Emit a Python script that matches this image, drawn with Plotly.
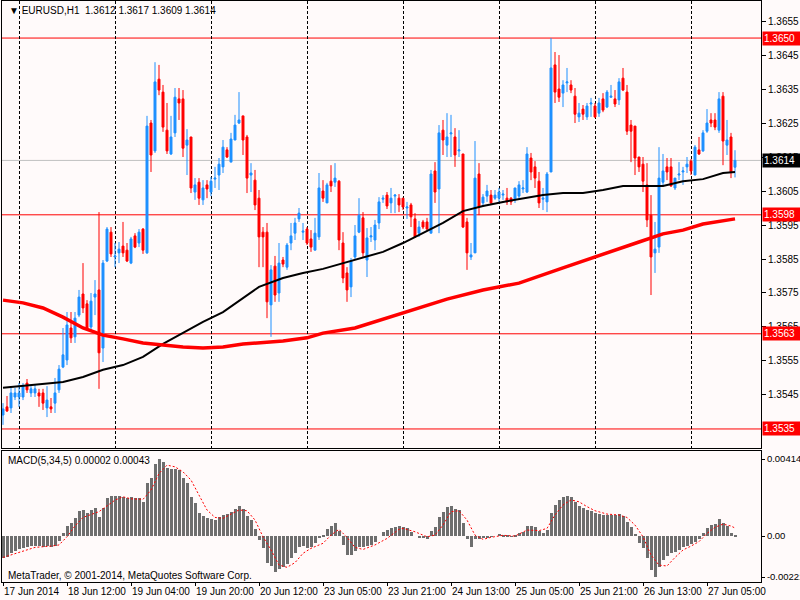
"""
EURUSD H1 - candlestick chart with moving averages and MACD (MetaTrader style)
"""
import plotly.graph_objects as go

# ---- data ----
OPEN = [
    1.35391, 1.35415, 1.35412, 1.35444, 1.35444, 1.35444, 1.35485, 1.35456, 1.35456, 1.35456,
    1.35456, 1.35412, 1.35415, 1.35426, 1.35465, 1.35532, 1.35553, 1.35647, 1.35621, 1.35685,
    1.35747, 1.35718, 1.35650, 1.35738, 1.35759, 1.35588, 1.35844, 1.35929, 1.35856, 1.35868,
    1.35888, 1.35876, 1.35838, 1.35918, 1.35897, 1.35938, 1.35868, 1.36250, 1.36168, 1.36379,
    1.36341, 1.36229, 1.36159, 1.36221, 1.36321, 1.36321, 1.36185, 1.36209, 1.36047, 1.36076,
    1.36024, 1.36068, 1.36047, 1.36085, 1.36097, 1.36121, 1.36171, 1.36135, 1.36200, 1.36250,
    1.36271, 1.36209, 1.36097, 1.36082, 1.36029, 1.35929, 1.35929, 1.35715, 1.35829, 1.35750,
    1.35847, 1.35826, 1.35897, 1.35926, 1.35968, 1.35929, 1.35938, 1.35909, 1.35876, 1.35915,
    1.36050, 1.36015, 1.36079, 1.36076, 1.36079, 1.35897, 1.35809, 1.35768, 1.35856, 1.35929,
    1.35971, 1.35847, 1.35915, 1.35906, 1.35956, 1.36026, 1.36038, 1.36015, 1.36035, 1.36029,
    1.36029, 1.36000, 1.36009, 1.35968, 1.35926, 1.35959, 1.35959, 1.35926, 1.36109, 1.36056,
    1.36229, 1.36185, 1.36218, 1.36209, 1.36168, 1.36159, 1.35959, 1.35856, 1.35868, 1.36100,
    1.36015, 1.36035, 1.36038, 1.36029, 1.36029, 1.36038, 1.36029, 1.36029, 1.36024, 1.36035,
    1.36056, 1.36047, 1.36147, 1.36121, 1.36079, 1.36026, 1.36018, 1.36106, 1.36421, 1.36350,
    1.36338, 1.36368, 1.36362, 1.36329, 1.36268, 1.36291, 1.36268, 1.36306, 1.36300, 1.36279,
    1.36321, 1.36297, 1.36326, 1.36321, 1.36318, 1.36382, 1.36341, 1.36244, 1.36241, 1.36150,
    1.36129, 1.36068, 1.35979, 1.35868, 1.35885, 1.36076, 1.36121, 1.36121, 1.36059, 1.36097,
    1.36106, 1.36121, 1.36138, 1.36097, 1.36171, 1.36168, 1.36226, 1.36259, 1.36259, 1.36229,
    1.36329, 1.36185, 1.36209, 1.36120,
]
HIGH = [
    1.35426, 1.35447, 1.35471, 1.35471, 1.35485, 1.35485, 1.35497, 1.35476, 1.35479, 1.35468,
    1.35468, 1.35476, 1.35441, 1.35500, 1.35538, 1.35647, 1.35694, 1.35694, 1.35694, 1.35759,
    1.35838, 1.35729, 1.35750, 1.35788, 1.35988, 1.35847, 1.35944, 1.35944, 1.35897, 1.35900,
    1.35959, 1.35897, 1.35915, 1.35926, 1.35938, 1.35941, 1.36271, 1.36259, 1.36429, 1.36421,
    1.36362, 1.36309, 1.36271, 1.36353, 1.36353, 1.36347, 1.36232, 1.36209, 1.36088, 1.36088,
    1.36082, 1.36082, 1.36091, 1.36121, 1.36147, 1.36200, 1.36179, 1.36221, 1.36274, 1.36341,
    1.36271, 1.36215, 1.36132, 1.36112, 1.36053, 1.35944, 1.35956, 1.35832, 1.35859, 1.35897,
    1.35856, 1.35897, 1.35956, 1.35971, 1.36000, 1.35956, 1.35944, 1.35935, 1.35971, 1.36103,
    1.36082, 1.36074, 1.36126, 1.36132, 1.36082, 1.35929, 1.35826, 1.35853, 1.35950, 1.36029,
    1.35988, 1.35941, 1.35944, 1.35965, 1.36032, 1.36038, 1.36047, 1.36059, 1.36041, 1.36041,
    1.36029, 1.36018, 1.36015, 1.35985, 1.35962, 1.35965, 1.35971, 1.36112, 1.36135, 1.36244,
    1.36259, 1.36279, 1.36274, 1.36235, 1.36229, 1.36159, 1.35971, 1.35897, 1.36197, 1.36132,
    1.36041, 1.36068, 1.36053, 1.36053, 1.36059, 1.36053, 1.36059, 1.36032, 1.36059, 1.36079,
    1.36082, 1.36179, 1.36162, 1.36138, 1.36106, 1.36059, 1.36106, 1.36500, 1.36459, 1.36450,
    1.36376, 1.36412, 1.36376, 1.36353, 1.36309, 1.36303, 1.36309, 1.36324, 1.36309, 1.36324,
    1.36338, 1.36347, 1.36362, 1.36347, 1.36382, 1.36412, 1.36362, 1.36259, 1.36241, 1.36150,
    1.36150, 1.36132, 1.36038, 1.35959, 1.36179, 1.36159, 1.36147, 1.36147, 1.36088, 1.36135,
    1.36121, 1.36150, 1.36144, 1.36185, 1.36209, 1.36229, 1.36291, 1.36279, 1.36279, 1.36341,
    1.36341, 1.36259, 1.36221, 1.36170,
]
LOW = [
    1.35362, 1.35400, 1.35397, 1.35435, 1.35415, 1.35435, 1.35456, 1.35444, 1.35444, 1.35415,
    1.35406, 1.35385, 1.35397, 1.35397, 1.35456, 1.35529, 1.35538, 1.35603, 1.35603, 1.35679,
    1.35691, 1.35641, 1.35641, 1.35685, 1.35468, 1.35547, 1.35841, 1.35856, 1.35826, 1.35838,
    1.35856, 1.35841, 1.35835, 1.35882, 1.35885, 1.35865, 1.35865, 1.36106, 1.36162, 1.36332,
    1.36224, 1.36159, 1.36156, 1.36209, 1.36259, 1.36150, 1.36097, 1.36044, 1.36024, 1.36009,
    1.36009, 1.36029, 1.36035, 1.36059, 1.36053, 1.36103, 1.36147, 1.36135, 1.36200, 1.36247,
    1.36156, 1.36044, 1.36047, 1.35994, 1.35826, 1.35826, 1.35676, 1.35621, 1.35724, 1.35724,
    1.35826, 1.35818, 1.35876, 1.35906, 1.35959, 1.35906, 1.35891, 1.35871, 1.35876, 1.35906,
    1.36018, 1.36015, 1.36047, 1.36062, 1.35876, 1.35779, 1.35724, 1.35738, 1.35847, 1.35926,
    1.35856, 1.35797, 1.35900, 1.35876, 1.35938, 1.36015, 1.35997, 1.35985, 1.35985, 1.35988,
    1.35994, 1.35968, 1.35944, 1.35912, 1.35915, 1.35938, 1.35935, 1.35926, 1.36015, 1.35926,
    1.36156, 1.36150, 1.36150, 1.36121, 1.36150, 1.35941, 1.35818, 1.35847, 1.35868, 1.35979,
    1.36003, 1.36018, 1.36009, 1.36024, 1.36015, 1.36024, 1.36009, 1.36009, 1.36015, 1.36024,
    1.36044, 1.36044, 1.36082, 1.36059, 1.36000, 1.35994, 1.35988, 1.36106, 1.36309, 1.36312,
    1.36297, 1.36341, 1.36338, 1.36250, 1.36253, 1.36259, 1.36259, 1.36268, 1.36265, 1.36268,
    1.36282, 1.36294, 1.36324, 1.36297, 1.36303, 1.36344, 1.36215, 1.36135, 1.36097, 1.36106,
    1.36047, 1.35944, 1.35744, 1.35809, 1.35868, 1.36062, 1.36082, 1.36062, 1.36053, 1.36082,
    1.36068, 1.36103, 1.36097, 1.36097, 1.36156, 1.36165, 1.36221, 1.36238, 1.36229, 1.36221,
    1.36126, 1.36156, 1.36088, 1.36090,
]
CLOSE = [
    1.35409, 1.35403, 1.35456, 1.35456, 1.35456, 1.35476, 1.35465, 1.35468, 1.35468, 1.35447,
    1.35426, 1.35435, 1.35409, 1.35456, 1.35526, 1.35568, 1.35656, 1.35618, 1.35676, 1.35738,
    1.35706, 1.35647, 1.35726, 1.35747, 1.35574, 1.35838, 1.35938, 1.35865, 1.35859, 1.35879,
    1.35868, 1.35844, 1.35909, 1.35885, 1.35929, 1.35876, 1.36241, 1.36156, 1.36371, 1.36347,
    1.36238, 1.36168, 1.36209, 1.36326, 1.36309, 1.36176, 1.36200, 1.36059, 1.36068, 1.36029,
    1.36059, 1.36056, 1.36079, 1.36088, 1.36129, 1.36179, 1.36150, 1.36203, 1.36244, 1.36259,
    1.36200, 1.36088, 1.36103, 1.36009, 1.35915, 1.35915, 1.35724, 1.35818, 1.35744, 1.35838,
    1.35835, 1.35891, 1.35918, 1.35956, 1.35985, 1.35932, 1.35897, 1.35885, 1.35926, 1.36059,
    1.36029, 1.36068, 1.36065, 1.36088, 1.35906, 1.35794, 1.35759, 1.35844, 1.35918, 1.35979,
    1.35868, 1.35912, 1.35918, 1.35950, 1.36018, 1.36029, 1.36006, 1.36029, 1.36038, 1.36009,
    1.36003, 1.36003, 1.35974, 1.35915, 1.35944, 1.35944, 1.35938, 1.36100, 1.36047, 1.36221,
    1.36200, 1.36209, 1.36221, 1.36156, 1.36171, 1.35944, 1.35868, 1.35862, 1.36088, 1.36003,
    1.36032, 1.36050, 1.36015, 1.36038, 1.36047, 1.36041, 1.36018, 1.36018, 1.36059, 1.36068,
    1.36059, 1.36159, 1.36106, 1.36088, 1.36015, 1.36029, 1.36100, 1.36412, 1.36341, 1.36326,
    1.36362, 1.36371, 1.36347, 1.36276, 1.36279, 1.36276, 1.36300, 1.36309, 1.36268, 1.36309,
    1.36288, 1.36341, 1.36329, 1.36306, 1.36371, 1.36347, 1.36226, 1.36226, 1.36147, 1.36121,
    1.36079, 1.35965, 1.35856, 1.35879, 1.36088, 1.36109, 1.36106, 1.36065, 1.36088, 1.36100,
    1.36109, 1.36129, 1.36109, 1.36179, 1.36159, 1.36221, 1.36250, 1.36250, 1.36238, 1.36321,
    1.36197, 1.36200, 1.36106, 1.36140,
]

# moving averages (bar index, price)
MA_FAST_X = [0, 8, 15, 20, 25, 30, 35, 40, 45, 50, 55, 60, 64, 70, 75, 80, 85, 90, 95,
             100, 105, 110, 115, 120, 125, 130, 135, 140, 145, 150, 155, 160, 165, 170,
             175, 180, 183]
MA_FAST_Y = [1.35471, 1.35479, 1.35488, 1.35503, 1.35524, 1.35538, 1.35562, 1.35600,
             1.35632, 1.35665, 1.35694, 1.35735, 1.35768, 1.35794, 1.35809, 1.35821,
             1.35838, 1.35853, 1.35871, 1.35897, 1.35926, 1.35956, 1.35991, 1.36006,
             1.36018, 1.36029, 1.36038, 1.36044, 1.36044, 1.36053, 1.36065, 1.36065,
             1.36065, 1.36079, 1.36085, 1.36103, 1.36106]
MA_SLOW_X = [0, 5, 10, 15, 20, 25, 30, 35, 40, 45, 50, 55, 60, 64, 70, 76, 80, 88, 96,
             104, 111, 120, 129, 140, 149, 155, 159, 165, 170, 175, 180, 183]
MA_SLOW_Y = [1.35729, 1.35721, 1.35706, 1.35679, 1.35647, 1.35626, 1.35615, 1.35603,
             1.35597, 1.35591, 1.35588, 1.35591, 1.35600, 1.35603, 1.35609, 1.35618,
             1.35632, 1.35647, 1.35676, 1.35706, 1.35732, 1.35759, 1.35779, 1.35824,
             1.35859, 1.35882, 1.35900, 1.35924, 1.35935, 1.35953, 1.35962, 1.35968]

# MACD(5,34,5) histogram and signal
MACD = [
    -0.00120, -0.00111, -0.00093, -0.00081, -0.00072, -0.00066, -0.00057, -0.00054, -0.00054, -0.00054,
    -0.00057, -0.00054, -0.00061, -0.00054, -0.00025, 0.00014, 0.00054, 0.00068, 0.00095, 0.00134,
    0.00140, 0.00125, 0.00140, 0.00149, 0.00104, 0.00149, 0.00202, 0.00215, 0.00215, 0.00215,
    0.00208, 0.00202, 0.00208, 0.00202, 0.00202, 0.00184, 0.00283, 0.00310, 0.00387, 0.00414,
    0.00399, 0.00363, 0.00358, 0.00358, 0.00355, 0.00310, 0.00283, 0.00211, 0.00175, 0.00125,
    0.00107, 0.00095, 0.00090, 0.00086, 0.00100, 0.00113, 0.00118, 0.00131, 0.00143, 0.00161,
    0.00143, 0.00107, 0.00086, 0.00036, -0.00021, -0.00066, -0.00143, -0.00161, -0.00191, -0.00179,
    -0.00168, -0.00150, -0.00120, -0.00093, -0.00061, -0.00054, -0.00066, -0.00061, -0.00039, -0.00007,
    0.00005, 0.00036, 0.00054, 0.00068, 0.00029, -0.00048, -0.00102, -0.00102, -0.00079, -0.00061,
    -0.00061, -0.00054, -0.00048, -0.00030, 0.00000, 0.00023, 0.00032, 0.00041, 0.00050, 0.00054,
    0.00047, 0.00041, 0.00023, 0.00000, -0.00007, -0.00013, -0.00018, 0.00029, 0.00047, 0.00104,
    0.00131, 0.00154, 0.00161, 0.00143, 0.00140, 0.00068, -0.00018, -0.00061, -0.00018, -0.00018,
    -0.00013, -0.00007, -0.00004, 0.00000, 0.00011, 0.00007, 0.00005, -0.00002, 0.00005, 0.00014,
    0.00023, 0.00054, 0.00054, 0.00047, 0.00029, 0.00014, 0.00032, 0.00125, 0.00167, 0.00194,
    0.00208, 0.00215, 0.00208, 0.00184, 0.00161, 0.00149, 0.00140, 0.00136, 0.00122, 0.00118,
    0.00113, 0.00113, 0.00113, 0.00113, 0.00118, 0.00107, 0.00077, 0.00047, 0.00011, -0.00036,
    -0.00066, -0.00120, -0.00183, -0.00221, -0.00168, -0.00129, -0.00107, -0.00093, -0.00084, -0.00075,
    -0.00061, -0.00054, -0.00043, -0.00030, -0.00018, 0.00018, 0.00041, 0.00059, 0.00064, 0.00090,
    0.00072, 0.00054, 0.00014, 0.00002,
]
SIGNAL_X = [0, 4, 8, 12, 14, 16, 18, 20, 24, 28, 30, 32, 35, 37, 39, 41, 43, 45, 47, 49,
            51, 53, 55, 57, 59, 61, 63, 65, 67, 69, 71, 73, 75, 77, 80, 82, 84, 86, 88, 90,
            93, 96, 99, 100, 103, 106, 108, 110, 112, 114, 116, 118, 120, 122, 125, 128,
            131, 134, 136, 138, 140, 142, 144, 146, 148, 151, 154, 156, 158, 160, 162, 164,
            166, 168, 170, 172, 174, 176, 178, 180, 182, 183]
SIGNAL_Y = [-0.00115, -0.00090, -0.00061, -0.00054, -0.00048, -0.00004, 0.00054, 0.00100,
            0.00131, 0.00193, 0.00211, 0.00200, 0.00197, 0.00247, 0.00336, 0.00381, 0.00372,
            0.00345, 0.00301, 0.00220, 0.00140, 0.00100, 0.00095, 0.00118, 0.00140, 0.00136,
            0.00086, -0.00004, -0.00075, -0.00156, -0.00168, -0.00143, -0.00093, -0.00066,
            -0.00039, 0.00005, 0.00036, -0.00007, -0.00061, -0.00072, -0.00048, -0.00013,
            0.00036, 0.00041, 0.00023, -0.00004, 0.00005, 0.00059, 0.00131, 0.00136, 0.00086,
            0.00005, -0.00018, -0.00007, 0.00004, 0.00000, 0.00032, 0.00029, 0.00041, 0.00113,
            0.00167, 0.00194, 0.00184, 0.00158, 0.00136, 0.00118, 0.00113, 0.00100, 0.00059,
            -0.00004, -0.00102, -0.00156, -0.00161, -0.00115, -0.00075, -0.00054, -0.00030,
            0.00014, 0.00047, 0.00064, 0.00054, 0.00043]

# horizontal levels drawn on the chart
LEVELS = [1.3650, 1.3598, 1.3563, 1.3535]

# axis ticks
PRICE_TICKS = [1.3545, 1.3555, 1.3565, 1.3575, 1.3585, 1.3595, 1.3605, 1.3615,
               1.3625, 1.3635, 1.3645, 1.3655]
MACD_TICKS = [0.00414, 0.0, -0.00221]
MACD_TICK_TEXT = ["0.00414", "0.00", "-0.00221"]
TIME_TICK_BARS = [0, 16, 32, 48, 64, 80, 96, 112, 128, 144, 160, 176]
TIME_LABELS = ["17 Jun 2014", "18 Jun 12:00", "19 Jun 04:00", "19 Jun 20:00",
               "20 Jun 12:00", "23 Jun 05:00", "23 Jun 21:00", "24 Jun 13:00",
               "25 Jun 05:00", "25 Jun 21:00", "26 Jun 13:00", "27 Jun 05:00"]
GRID_BARS = [4, 28, 52, 76, 100, 124, 148, 172]

BG = "#FFFAFA"
BLUE = "#1E90FF"
RED = "#FF0000"
FONT = "Liberation Sans, Arial, sans-serif"

bars = list(range(len(OPEN)))
x_range = [-0.25, 189.5]
x_dom = [2 / 800, 761 / 800]
main_dom = [1 - 448 / 600, 1 - 1 / 600]
macd_dom = [1 - 582 / 600, 1 - 451 / 600]

fig = go.Figure()

fig.add_trace(go.Candlestick(
    x=bars, open=OPEN, high=HIGH, low=LOW, close=CLOSE,
    increasing=dict(line=dict(color=BLUE, width=1), fillcolor=BLUE),
    decreasing=dict(line=dict(color=RED, width=1), fillcolor=RED),
    xaxis="x", yaxis="y", hoverinfo="skip"
))
fig.add_trace(go.Scatter(x=MA_FAST_X, y=MA_FAST_Y, mode="lines",
                         line=dict(color="black", width=2), xaxis="x", yaxis="y"))
fig.add_trace(go.Scatter(x=MA_SLOW_X, y=MA_SLOW_Y, mode="lines",
                         line=dict(color=RED, width=3.5), xaxis="x", yaxis="y"))

fig.add_trace(go.Bar(x=bars, y=MACD, width=0.75, marker=dict(color="#6E6E6E", line=dict(width=0)),
                     xaxis="x2", yaxis="y2"))
fig.add_trace(go.Scatter(x=SIGNAL_X, y=SIGNAL_Y, mode="lines",
                         line=dict(color=RED, width=1, dash="2px,2px"), xaxis="x2", yaxis="y2"))

shapes = []
for lv in LEVELS:
    shapes.append(dict(type="line", xref="x domain", yref="y", x0=0, x1=1, y0=lv, y1=lv,
                       line=dict(color=RED, width=1), layer="below"))
shapes.append(dict(type="line", xref="x domain", yref="y", x0=0, x1=1,
                   y0=CLOSE[-1], y1=CLOSE[-1], line=dict(color="#C0C0C0", width=1), layer="below"))

annotations = []
for lv in LEVELS:
    annotations.append(dict(xref="paper", yref="y", x=762 / 800, y=lv, xanchor="left",
                            yanchor="middle", text=f"{lv:.4f}", showarrow=False,
                            bgcolor=RED, font=dict(color="white", size=10, family=FONT),
                            width=36, align="left", borderpad=1))
annotations.append(dict(xref="paper", yref="y", x=762 / 800, y=CLOSE[-1], xanchor="left",
                        yanchor="middle", text=f"{CLOSE[-1]:.4f}", showarrow=False,
                        bgcolor="black", font=dict(color="white", size=10, family=FONT),
                        width=36, align="left", borderpad=1))
annotations.append(dict(xref="paper", yref="paper", x=7 / 800, y=1 - 11 / 600, xanchor="left",
                        yanchor="middle", showarrow=False,
                        text="▼ EURUSD,H1  1.3612 1.3617 1.3609 1.3614",
                        font=dict(color="black", size=10, family=FONT)))
annotations.append(dict(xref="paper", yref="paper", x=6 / 800, y=1 - 460 / 600, xanchor="left",
                        yanchor="middle", showarrow=False,
                        text="MACD(5,34,5) 0.00002 0.00043",
                        font=dict(color="black", size=10, family=FONT)))
annotations.append(dict(xref="paper", yref="paper", x=6 / 800, y=1 - 575 / 600, xanchor="left",
                        yanchor="middle", showarrow=False,
                        text="MetaTrader, © 2001-2014, MetaQuotes Software Corp.",
                        font=dict(color="black", size=10, family=FONT)))

axis_common = dict(showline=True, mirror=True, linecolor="black", linewidth=1,
                   zeroline=False, automargin=False, fixedrange=True)

fig.update_layout(
    width=800, height=600, autosize=False,
    margin=dict(l=0, r=0, t=0, b=0),
    paper_bgcolor=BG, plot_bgcolor=BG,
    showlegend=False, boxgap=0.3, bargap=0,
    font=dict(family=FONT, size=10, color="black"),
    shapes=shapes, annotations=annotations,
    xaxis=dict(domain=x_dom, range=x_range, anchor="y", tickvals=GRID_BARS,
               showgrid=True, gridcolor="black", gridwidth=1, griddash="3px,2px",
               showticklabels=False, ticks="", rangeslider=dict(visible=False), **axis_common),
    yaxis=dict(domain=main_dom, range=[1.35294, 1.36609], anchor="x", side="right",
               tickvals=PRICE_TICKS, ticktext=[f"{p:.4f}" for p in PRICE_TICKS],
               ticks="outside", ticklen=4, tickcolor="black", showgrid=False, **axis_common),
    xaxis2=dict(domain=x_dom, range=x_range, anchor="y2", tickvals=TIME_TICK_BARS,
                ticktext=TIME_LABELS, ticks="outside", ticklen=3, tickcolor="black",
                tickangle=0, tickfont=dict(size=10),
                ticklabelposition="outside right", showgrid=False, **axis_common),
    xaxis3=dict(range=x_range, overlaying="x2", anchor="y2", tickvals=GRID_BARS,
                showgrid=True, gridcolor="black", gridwidth=1, griddash="3px,2px",
                showticklabels=False, ticks="", showline=False, zeroline=False,
                automargin=False),
    yaxis2=dict(domain=macd_dom, range=[-0.00247, 0.00457], anchor="x2", side="right",
                tickvals=MACD_TICKS, ticktext=MACD_TICK_TEXT, ticks="outside", ticklen=3,
                tickcolor="black", tickfont=dict(size=9.5), showgrid=False, **axis_common),
)

# the page body has a default 8px margin; remove it so the chart fills the window
fig.write_html("out.html", config={"displayModeBar": False},
               post_script="document.body.style.margin='0';")
